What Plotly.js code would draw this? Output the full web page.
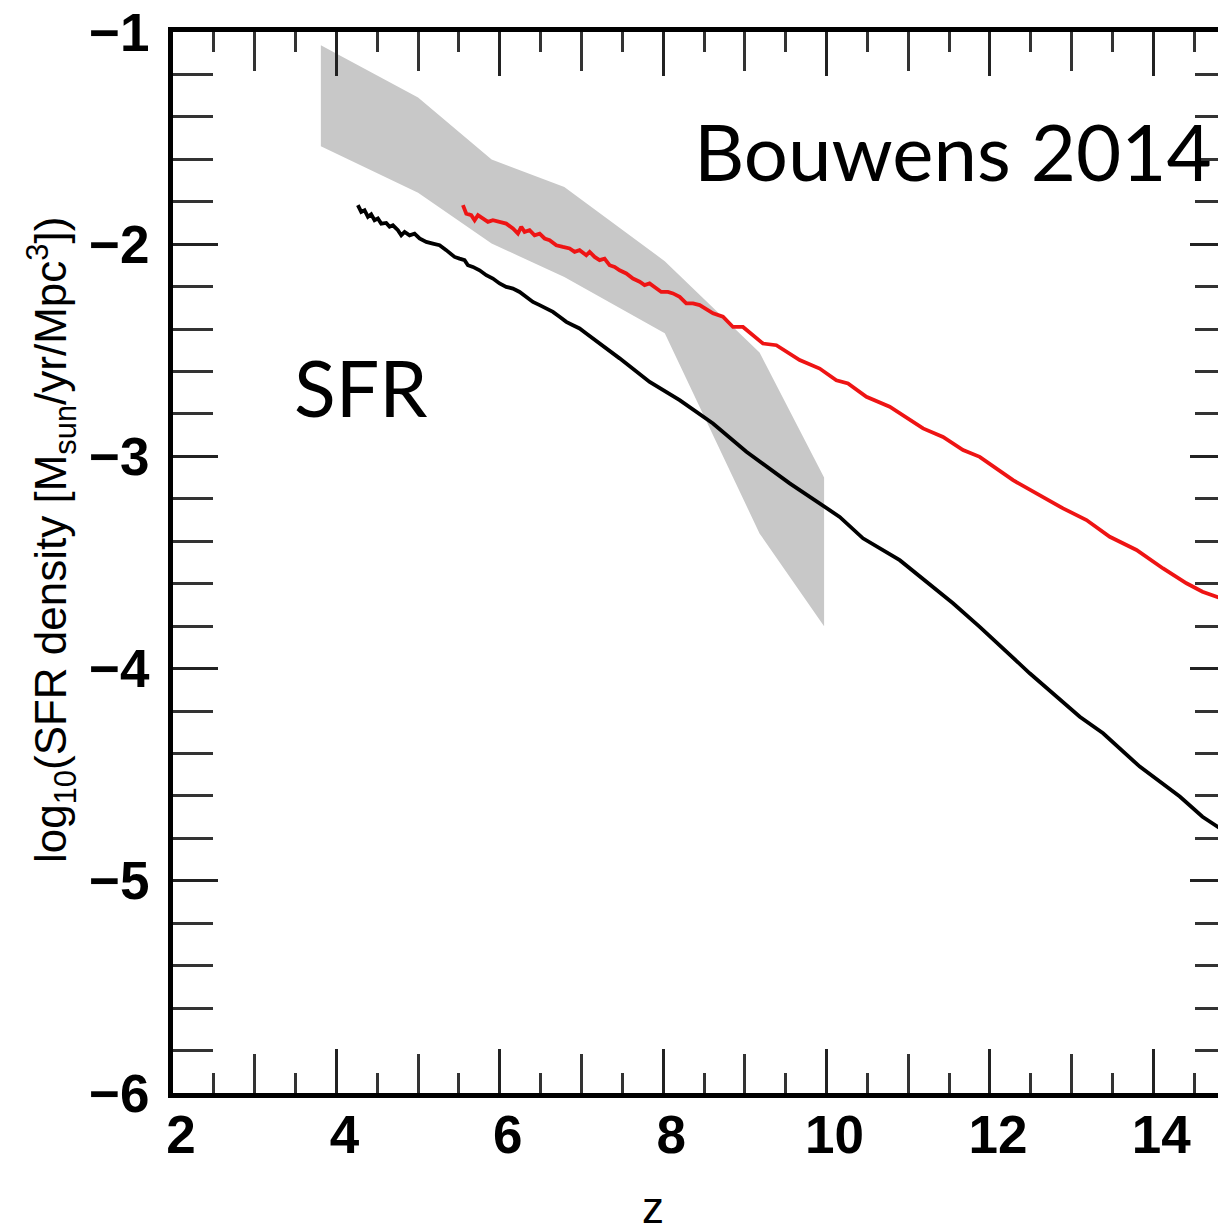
<!DOCTYPE html>
<html>
<head>
<meta charset="utf-8">
<script src="https://cdn.plot.ly/plotly-3.0.1.min.js"></script>
<style>
html,body{margin:0;padding:0;overflow:hidden;background:#fff;}
#chart{width:1300px;height:1230px;}
</style>
</head>
<body>
<div id="chart"></div>
<script>
// Observational band (Bouwens 2014)
const bandZ     = [3.81, 5.0, 5.9, 6.79, 8.02, 9.18, 9.97];
const bandUpper = [-1.063, -1.309, -1.601, -1.730, -2.08, -2.51, -3.10];
const bandLower = [-1.538, -1.758, -1.997, -2.154, -2.42, -3.363, -3.80];

// Black simulation curve
const blackZ = [4.263,4.304,4.345,4.386,4.426,4.467,4.508,4.549,4.610,4.651,4.692,4.753,4.794,4.835,4.896,4.957,5.018,5.100,5.181,5.263,5.345,5.406,5.447,5.508,5.569,5.610,5.671,5.753,5.835,5.916,5.998,6.079,6.161,6.243,6.324,6.406,6.488,6.569,6.651,6.732,6.814,6.896,6.977,7.059,7.141,7.222,7.304,7.385,7.467,7.835,8.202,8.610,9.019,9.549,10.161,10.446,10.896,11.548,11.875,12.487,13.100,13.385,13.834,14.324,14.602,15.0];
const blackY = [-1.816,-1.848,-1.840,-1.871,-1.859,-1.887,-1.879,-1.903,-1.900,-1.918,-1.911,-1.934,-1.958,-1.942,-1.958,-1.950,-1.973,-1.989,-1.997,-2.005,-2.028,-2.044,-2.060,-2.068,-2.075,-2.099,-2.107,-2.123,-2.146,-2.162,-2.185,-2.201,-2.209,-2.225,-2.248,-2.272,-2.287,-2.303,-2.319,-2.342,-2.366,-2.382,-2.397,-2.421,-2.444,-2.468,-2.491,-2.515,-2.538,-2.649,-2.735,-2.845,-2.978,-3.127,-3.285,-3.386,-3.489,-3.692,-3.803,-4.022,-4.227,-4.305,-4.462,-4.603,-4.698,-4.80];

// Red simulation curve
const redZ = [5.549,5.590,5.651,5.692,5.733,5.794,5.855,5.916,5.998,6.079,6.161,6.222,6.263,6.304,6.365,6.426,6.488,6.549,6.610,6.692,6.773,6.855,6.916,6.977,7.059,7.100,7.161,7.222,7.283,7.344,7.406,7.467,7.549,7.630,7.712,7.773,7.834,7.916,7.977,8.059,8.120,8.202,8.283,8.365,8.447,8.610,8.732,8.855,8.977,9.222,9.386,9.671,9.916,10.120,10.263,10.488,10.773,11.181,11.426,11.671,11.875,12.283,12.610,12.895,13.182,13.467,13.794,14.120,14.406,14.602,15.0];
const redY = [-1.816,-1.856,-1.863,-1.887,-1.863,-1.879,-1.895,-1.887,-1.895,-1.903,-1.926,-1.950,-1.918,-1.942,-1.934,-1.958,-1.950,-1.973,-1.981,-2.005,-2.013,-2.020,-2.036,-2.028,-2.052,-2.036,-2.060,-2.075,-2.068,-2.099,-2.107,-2.123,-2.138,-2.162,-2.177,-2.193,-2.185,-2.209,-2.225,-2.225,-2.232,-2.248,-2.279,-2.279,-2.287,-2.326,-2.342,-2.390,-2.390,-2.468,-2.476,-2.546,-2.586,-2.641,-2.656,-2.719,-2.766,-2.868,-2.908,-2.970,-3.002,-3.112,-3.182,-3.245,-3.300,-3.379,-3.441,-3.528,-3.598,-3.638,-3.691];

const xTickVals = [2,4,6,8,10,12,14];
const xTickText = ['2','4','6','8','10','12','14'];
const xOddTicks = [3,5,7,9,11,13,15];
const xHalfTicks = [2.5,3.5,4.5,5.5,6.5,7.5,8.5,9.5,10.5,11.5,12.5,13.5,14.5];
const yTickVals = [-6,-5,-4,-3,-2,-1];
const yMinorTicks = [-5.8,-5.6,-5.4,-5.2,-4.8,-4.6,-4.4,-4.2,-3.8,-3.6,-3.4,-3.2,-2.8,-2.6,-2.4,-2.2,-1.8,-1.6,-1.4,-1.2];

const textFont = 'Lato, "Open Sans", sans-serif';
const axisFont = '"Liberation Sans", Arial, Helvetica, sans-serif';

// band on the main subplot (drawn first, underneath the curves)
const band = {
  x: bandZ.concat(bandZ.slice().reverse()),
  y: bandUpper.concat(bandLower.slice().reverse()),
  type: 'scatter', mode: 'lines', fill: 'toself',
  fillcolor: 'rgb(200,200,200)', line: {width: 0, color: 'rgba(0,0,0,0)'},
  hoverinfo: 'skip', showlegend: false
};
const black = {
  x: blackZ, y: blackY, type: 'scatter', mode: 'lines', xaxis: 'x2', yaxis: 'y2',
  line: {color: '#000', width: 3.8}, showlegend: false
};
const red = {
  x: redZ, y: redY, type: 'scatter', mode: 'lines', xaxis: 'x3', yaxis: 'y',
  line: {color: 'rgb(238,20,20)', width: 3.8}, showlegend: false
};

const W = 1300;
const mLeft = 173, mTop = 32, plotRight = 1235, plotBottom = 1093;
const pw = plotRight - mLeft, ph = plotBottom - mTop;

function overlayX(vals, len, anchor) {
  return {
    matches: 'x', overlaying: 'x', anchor: anchor, side: 'bottom',
    range: [2, 15], showgrid: false, zeroline: false,
    tickmode: 'array', tickvals: vals,
    ticks: 'inside', ticklen: len, tickwidth: 3, tickcolor: '#333',
    showticklabels: false, showline: false, mirror: 'ticks'
  };
}

const layout = {
  width: W, height: 1230,
  margin: {l: mLeft, t: mTop, r: W - plotRight, b: 1230 - plotBottom, pad: 0},
  paper_bgcolor: '#fff', plot_bgcolor: '#fff',
  showlegend: false,
  xaxis: {
    range: [2, 15], showgrid: false, zeroline: false,
    tickmode: 'array', tickvals: xTickVals, ticktext: xTickText,
    ticks: 'inside', ticklen: 44, tickwidth: 3, tickcolor: '#222',
    showline: true, linewidth: 5, linecolor: '#000', mirror: 'ticks',
    tickfont: {family: axisFont, size: 53, color: '#000', weight: 'bold'},
    ticklabelshift: 8, ticklabelstandoff: -9
  },
  xaxis2: overlayX(xOddTicks, 39, 'y2'),
  xaxis3: overlayX(xHalfTicks, 20, 'y'),
  yaxis: {
    range: [-6, -1], showgrid: false, zeroline: false,
    tickmode: 'array', tickvals: yTickVals,
    ticks: 'inside', ticklen: 45, tickwidth: 3, tickcolor: '#222',
    showline: true, linewidth: 5, linecolor: '#000', mirror: 'ticks',
    tickfont: {family: axisFont, size: 53, color: '#000', weight: 'bold'},
    ticklabelstandoff: 8
  },
  yaxis2: {
    matches: 'y', overlaying: 'y', anchor: 'x2', side: 'left',
    range: [-6, -1], showgrid: false, zeroline: false,
    tickmode: 'array', tickvals: yMinorTicks,
    ticks: 'inside', ticklen: 40, tickwidth: 3, tickcolor: '#333',
    showticklabels: false, showline: false, mirror: 'ticks'
  },
  annotations: [
    {text: 'Bouwens 2014', xref: 'paper', yref: 'paper', x: (692 - mLeft) / pw, y: (plotBottom - 151) / ph,
     xanchor: 'left', yanchor: 'middle', showarrow: false, font: {family: textFont, size: 78, color: '#000'}},
    {text: 'SFR', xref: 'paper', yref: 'paper', x: (292 - mLeft) / pw, y: (plotBottom - 387) / ph,
     xanchor: 'left', yanchor: 'middle', showarrow: false, font: {family: textFont, size: 77, color: '#000'}},
    {text: 'z', xref: 'paper', yref: 'paper', x: (653 - mLeft) / pw, y: (plotBottom - 1207) / ph,
     xanchor: 'center', yanchor: 'middle', showarrow: false, font: {family: axisFont, size: 44, color: '#000'}},
    {text: 'log<sub>10</sub>(SFR density [M<sub>sun</sub>/yr/Mpc<sup>3</sup>])', textangle: -90,
     xref: 'paper', yref: 'paper', x: (51 - mLeft) / pw, y: (plotBottom - 540) / ph,
     xanchor: 'center', yanchor: 'middle', showarrow: false, font: {family: axisFont, size: 44, color: '#000'}}
  ]
};

Plotly.newPlot('chart', [band, black, red], layout, {staticPlot: true, displayModeBar: false});
</script>
</body>
</html>
